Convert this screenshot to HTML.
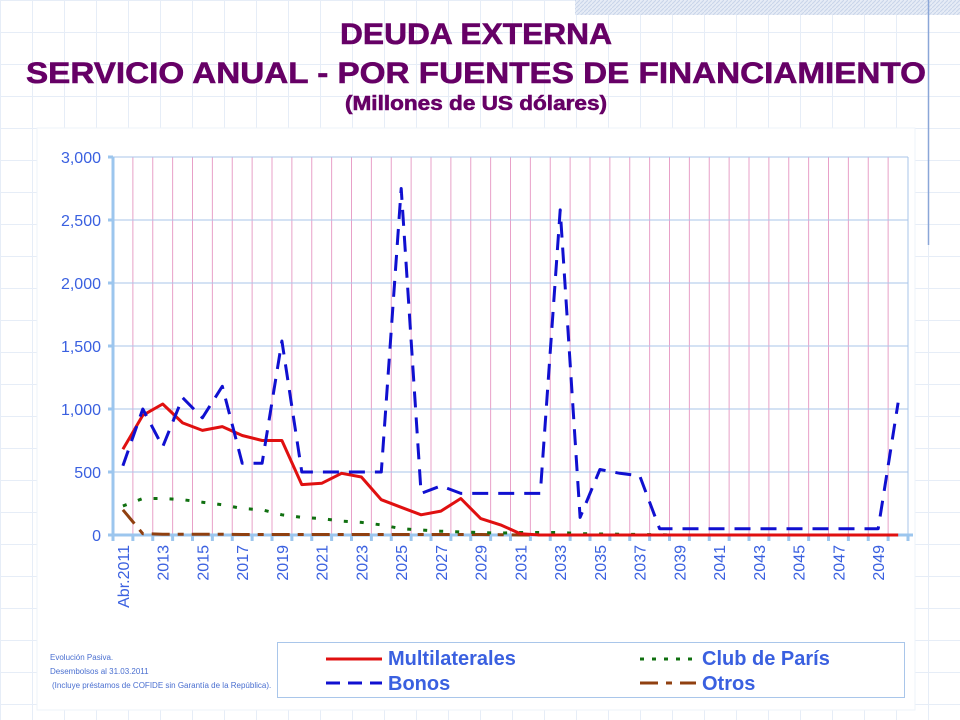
<!DOCTYPE html>
<html><head><meta charset="utf-8"><style>
body{margin:0;width:960px;height:720px;overflow:hidden;background:#fff;
background-image:linear-gradient(to right,#e6edf7 1px,transparent 1px),linear-gradient(to bottom,#e6edf7 1px,transparent 1px);background-size:32px 32px;font-family:"Liberation Sans",sans-serif;}
</style></head><body>
<svg width="960" height="720" style="position:absolute;left:0;top:0">
<defs><pattern id="h" width="4" height="4" patternUnits="userSpaceOnUse"><rect width="4" height="4" fill="#e6ecf6"/><path d="M0 4L4 0" stroke="#c8d4ea" stroke-width="1"/></pattern></defs>
<rect x="575" y="0" width="385" height="15" fill="url(#h)"/>
<line x1="928.5" y1="0" x2="928.5" y2="245" stroke="#8aa6d8" stroke-width="1.5"/>
<g font-weight="bold" fill="#660066" text-anchor="middle" stroke="#660066" stroke-width="0.6">
<text x="476" y="44" font-size="30" textLength="272" lengthAdjust="spacingAndGlyphs">DEUDA EXTERNA</text>
<text x="476" y="83" font-size="30" textLength="900" lengthAdjust="spacingAndGlyphs">SERVICIO ANUAL - POR FUENTES DE FINANCIAMIENTO</text>
<text x="476" y="110" font-size="20" textLength="262" lengthAdjust="spacingAndGlyphs">(Millones de US dólares)</text>
</g>
<rect x="37" y="128" width="878" height="582" fill="#fff" stroke="#eef3fa"/>
<g id="plot"></g>
<rect x="277.5" y="642.5" width="627" height="55" fill="#fff" stroke="#a9c6ea"/>
<g font-size="8" fill="#4a6fd0">
<text x="50" y="660">Evolución Pasiva.</text>
<text x="50" y="674">Desembolsos al 31.03.2011</text>
<text x="52" y="688">(Incluye préstamos de COFIDE sin Garantía de la República).</text>
</g>
<g font-weight="bold" font-size="20" fill="#3a60e0">
<text x="388" y="665">Multilaterales</text><text x="388" y="690">Bonos</text>
<text x="702" y="665">Club de París</text><text x="702" y="690">Otros</text>
</g>
<line x1="326" y1="659" x2="382" y2="659" stroke="#e01010" stroke-width="3"/>
<line x1="326" y1="683" x2="382" y2="683" stroke="#1010d0" stroke-width="3" stroke-dasharray="14,8"/>
<line x1="640" y1="659" x2="696" y2="659" stroke="#107010" stroke-width="3" stroke-dasharray="4,8"/>
<line x1="640" y1="683" x2="696" y2="683" stroke="#904010" stroke-width="3" stroke-dasharray="18,8,6,8"/>
</svg>
<script>
var g=document.getElementById('plot'),s='';
var L=113,R=908,T=157,B=535,w=(R-L)/40;
function Y(v){return B-v*(B-T)/3000}
for(var i=1;i<40;i++){var x=L+i*w;s+='<line x1="'+x+'" y1="'+T+'" x2="'+x+'" y2="'+B+'" stroke="#e8a0c8" stroke-width="1"/>';}
for(var v=500;v<=3000;v+=500){s+='<line x1="'+L+'" y1="'+Y(v)+'" x2="'+R+'" y2="'+Y(v)+'" stroke="#a9c6ea" stroke-width="1"/>';}
s+='<line x1="'+R+'" y1="'+T+'" x2="'+R+'" y2="'+B+'" stroke="#a9c6ea"/>';
for(var v=0;v<=3000;v+=500){var y=Y(v);s+='<line x1="'+(L-5)+'" y1="'+y+'" x2="'+L+'" y2="'+y+'" stroke="#9cc6ee" stroke-width="3"/><text x="101" y="'+(y+6)+'" font-size="16" fill="#3a60e0" text-anchor="end">'+v.toLocaleString('en-US')+'</text>';}
s+='<line x1="'+L+'" y1="'+T+'" x2="'+L+'" y2="'+(B+2)+'" stroke="#9cc6ee" stroke-width="3"/>';
s+='<line x1="'+(L-5)+'" y1="'+B+'" x2="'+(R+5)+'" y2="'+B+'" stroke="#9cc6ee" stroke-width="3"/>';
for(var i=0;i<=40;i++){var x=L+i*w;s+='<line x1="'+x+'" y1="'+B+'" x2="'+x+'" y2="'+(B+6)+'" stroke="#9cc6ee" stroke-width="3"/>';}
for(var i=0;i<40;i+=2){var x=L+(i+.5)*w+6;var lab=i==0?'Abr.2011':String(2011+i);
s+='<text transform="translate('+x+',545) rotate(-90)" font-size="16" fill="#3a60e0" text-anchor="end">'+lab+'</text>';}
function pad(a){while(a.length<40)a.push(a[a.length-1]);return a}
var mul=pad([680,950,1040,890,830,860,790,750,750,400,410,490,460,280,220,160,190,290,130,80,10,0]);
var bon=pad([550,1000,700,1090,930,1180,570,570,1540,500,500,500,500,500,2750,330,390,330,330,330,330,330,2580,140,520,490,470,50,50,50,50,50,50,50,50,50,50,50,50,1050]);
var clb=pad([230,290,290,280,260,240,210,200,160,140,130,110,100,80,50,40,30,25,20,15,20,20,20,10,8,6,4,2,0]);
var otr=pad([200,10,6,6,6,6,4,4,4,4,4,4,4,4,4,4,4,4,4,2,0]);
function pl(a,st,sw,da){var p=a.map(function(v,i){return (L+(i+.5)*w).toFixed(1)+','+Y(v).toFixed(1)}).join(' ');
return '<polyline points="'+p+'" fill="none" stroke="'+st+'" stroke-width="'+sw+'" stroke-dasharray="'+da+'" stroke-linejoin="round"/>';}
s+=pl(otr,'#904010',3,'18,8,6,8');s+=pl(clb,'#107010',3,'4,12');s+=pl(mul,'#e01010',3,'none');s+=pl(bon,'#1010d0',3,'16,10');
g.innerHTML=s;
</script>
</body></html>
